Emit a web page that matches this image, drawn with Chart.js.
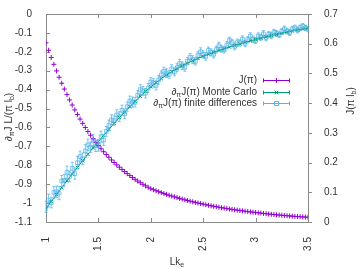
<!DOCTYPE html>
<html><head><meta charset="utf-8">
<script src="https://cdn.jsdelivr.net/npm/chart.js@4/dist/chart.umd.min.js"></script>
<style>html,body{margin:0;padding:0;background:#fff;overflow:hidden}canvas{display:block}</style>
</head><body>
<canvas id="c" width="359" height="269" style="width:359px;height:269px"></canvas>
<script>
// ---- data ----
const lkValues = [1.000,1.025,1.050,1.075,1.100,1.125,1.150,1.175,1.200,1.225,1.250,1.275,1.300,1.325,1.350,1.375,1.400,1.425,1.450,1.475,1.500,
1.525,1.550,1.575,1.600,1.625,1.650,1.675,1.700,1.725,1.750,1.775,1.800,1.825,1.850,1.875,1.900,1.925,1.950,1.975,2.000,
2.025,2.050,2.075,2.100,2.125,2.150,2.175,2.200,2.225,2.250,2.275,2.300,2.325,2.350,2.375,2.400,2.425,2.450,2.475,2.500,
2.525,2.550,2.575,2.600,2.625,2.650,2.675,2.700,2.725,2.750,2.775,2.800,2.825,2.850,2.875,2.900,2.925,2.950,2.975,3.000,
3.025,3.050,3.075,3.100,3.125,3.150,3.175,3.200,3.225,3.250,3.275,3.300,3.325,3.350,3.375,3.400,3.425,3.450,3.475,3.500];

const jValues = [0.6030,0.5778,0.5537,0.5306,0.5084,0.4872,0.4669,0.4474,0.4287,0.4108,0.3937,0.3772,0.3615,0.3464,0.3319,0.3181,0.3048,0.2921,0.2799,0.2682,0.2570,
0.2465,0.2365,0.2269,0.2177,0.2088,0.2003,0.1922,0.1844,0.1769,0.1697,0.1628,0.1562,0.1498,0.1437,0.1379,0.1323,0.1269,0.1217,0.1168,0.1120,
0.1086,0.1052,0.1020,0.0989,0.0958,0.0929,0.0900,0.0873,0.0846,0.0820,0.0795,0.0770,0.0747,0.0724,0.0701,0.0680,0.0659,0.0639,0.0619,0.0600,
0.0581,0.0563,0.0546,0.0529,0.0513,0.0497,0.0481,0.0467,0.0452,0.0438,0.0425,0.0411,0.0399,0.0386,0.0374,0.0363,0.0351,0.0341,0.0330,0.0320,
0.0309,0.0299,0.0288,0.0279,0.0269,0.0260,0.0251,0.0242,0.0234,0.0226,0.0218,0.0211,0.0204,0.0197,0.0190,0.0184,0.0177,0.0171,0.0165,0.0160];

const mcLk = [1.00,1.05,1.10,1.15,1.20,1.25,1.30,1.35,1.40,1.45,1.50,1.55,1.60,1.65,1.70,1.75,1.80,1.85,1.90,1.95,2.00,
2.05,2.10,2.15,2.20,2.25,2.30,2.35,2.40,2.45,2.50,2.55,2.60,2.65,2.70,2.75,2.80,2.85,2.90,2.95,3.00,
3.05,3.10,3.15,3.20,3.25,3.30,3.35,3.40,3.45,3.50];

const mcValues = [-1.030,-0.992,-0.955,-0.918,-0.882,-0.846,-0.811,-0.776,-0.742,-0.708,-0.675,-0.642,-0.610,-0.579,-0.548,-0.519,-0.490,-0.462,-0.435,-0.409,-0.385,
-0.363,-0.342,-0.323,-0.305,-0.289,-0.274,-0.260,-0.247,-0.235,-0.224,-0.213,-0.203,-0.193,-0.184,-0.175,-0.166,-0.158,-0.150,-0.142,-0.135,
-0.128,-0.121,-0.114,-0.108,-0.102,-0.096,-0.090,-0.085,-0.080,-0.075];

const fdValues = [-1.020,-0.986,-0.997,-0.944,-0.940,-0.947,-0.883,-0.880,-0.837,-0.859,-0.816,-0.844,-0.786,-0.754,-0.766,-0.724,-0.692,-0.705,-0.668,-0.697,-0.695,
-0.649,-0.667,-0.621,-0.590,-0.560,-0.564,-0.534,-0.543,-0.509,-0.529,-0.490,-0.460,-0.466,-0.467,-0.429,-0.400,-0.407,-0.419,-0.392,-0.360,
-0.364,-0.378,-0.348,-0.322,-0.303,-0.313,-0.319,-0.290,-0.307,-0.284,-0.262,-0.274,-0.282,-0.250,-0.229,-0.242,-0.251,-0.220,-0.200,-0.214,
-0.224,-0.193,-0.203,-0.213,-0.188,-0.168,-0.184,-0.189,-0.165,-0.140,-0.151,-0.171,-0.152,-0.153,-0.134,-0.155,-0.136,-0.117,-0.134,-0.140,
-0.117,-0.123,-0.105,-0.126,-0.108,-0.114,-0.096,-0.103,-0.110,-0.092,-0.079,-0.091,-0.098,-0.080,-0.073,-0.085,-0.073,-0.065,-0.073,-0.080];

const fdErrors = [0.030,0.034,0.028,0.032,0.030,0.035,0.029,0.031,0.033,0.028,0.032,0.030,0.034,0.029,0.031,0.033,0.030,0.028,0.032,0.030,0.031,
0.030,0.028,0.026,0.029,0.027,0.025,0.028,0.026,0.027,0.025,0.024,0.026,0.027,0.025,0.024,0.026,0.023,0.025,0.024,0.023,
0.022,0.024,0.023,0.021,0.022,0.023,0.021,0.022,0.020,0.021,0.022,0.020,0.021,0.019,0.020,0.021,0.019,0.020,0.021,0.019,
0.020,0.018,0.019,0.020,0.018,0.019,0.018,0.017,0.019,0.018,0.017,0.018,0.019,0.017,0.018,0.017,0.016,0.018,0.017,0.016,
0.017,0.016,0.017,0.015,0.016,0.017,0.015,0.016,0.015,0.016,0.015,0.014,0.016,0.015,0.014,0.015,0.014,0.015,0.014,0.014];

const xTickValues = [1, 1.5, 2, 2.5, 3, 3.5];
const leftTickValues = [0,-0.1,-0.2,-0.3,-0.4,-0.5,-0.6,-0.7,-0.8,-0.9,-1,-1.1];
const rightTickValues = [0,0.1,0.2,0.3,0.4,0.5,0.6,0.7];

const seriesNames = ['J(π)', 'J(π) Monte Carlo', 'J(π) finite differences'];

// ---- styles ----
const PURPLE = '#9400d3', GREEN = '#009e73', BLUE = '#56b4e9';
const BLUE_SOFT = 'rgba(86,180,233,0.85)';
const TEXT = '#333333', FRAME = '#8a8a8a';
const FONT = "'Liberation Sans', Arial, Helvetica, sans-serif";

function drawRich(ctx, parts, x, y, align) {
  const main = '10px ' + FONT, sub = '7px ' + FONT;
  let w = 0;
  for (const [t, s] of parts) { ctx.font = s ? sub : main; w += ctx.measureText(t).width; }
  let cx = align === 'right' ? x - w : align === 'center' ? x - w / 2 : x;
  ctx.textAlign = 'left';
  ctx.textBaseline = 'middle';
  for (const [t, s] of parts) {
    ctx.font = s ? sub : main;
    ctx.fillText(t, cx, y + (s ? 3 : 0));
    cx += ctx.measureText(t).width;
  }
}

const framePlugin = {
  id: 'frame',
  beforeDatasetsDraw(chart) {
    const { ctx, chartArea: a, scales } = chart;
    ctx.save();
    ctx.strokeStyle = FRAME; ctx.lineWidth = 1;
    ctx.strokeRect(a.left + 0.5, a.top + 0.5, a.right - a.left, a.bottom - a.top);
    ctx.beginPath();
    for (const v of xTickValues) {
      const px = Math.round(scales.x.getPixelForValue(v)) + 0.5;
      ctx.moveTo(px, a.bottom); ctx.lineTo(px, a.bottom - 4);
      ctx.moveTo(px, a.top); ctx.lineTo(px, a.top + 4);
    }
    for (const v of leftTickValues) {
      const py = Math.round(scales.y.getPixelForValue(v)) + 0.5;
      ctx.moveTo(a.left, py); ctx.lineTo(a.left + 4, py);
    }
    for (const v of rightTickValues) {
      const py = Math.round(scales.y2.getPixelForValue(v)) + 0.5;
      ctx.moveTo(a.right, py); ctx.lineTo(a.right + 4, py);
    }
    ctx.stroke();
    ctx.restore();
  }
};

const errorBarPlugin = {
  id: 'errbars',
  afterDatasetsDraw(chart) {
    const { ctx, scales } = chart;
    ctx.save();
    ctx.strokeStyle = BLUE_SOFT; ctx.lineWidth = 0.9;
    ctx.beginPath();
    for (let i = 0; i < lkValues.length; i++) {
      const px = scales.x.getPixelForValue(lkValues[i]);
      const y1 = scales.y.getPixelForValue(fdValues[i] - fdErrors[i]);
      const y2 = scales.y.getPixelForValue(fdValues[i] + fdErrors[i]);
      ctx.moveTo(px, y1); ctx.lineTo(px, y2);
      ctx.moveTo(px - 1.5, y1); ctx.lineTo(px + 1.5, y1);
      ctx.moveTo(px - 1.5, y2); ctx.lineTo(px + 1.5, y2);
    }
    ctx.stroke();
    ctx.restore();
  }
};

const textPlugin = {
  id: 'texts',
  afterDraw(chart) {
    const { ctx } = chart;
    ctx.save();
    ctx.fillStyle = TEXT;
    ctx.save(); ctx.translate(9, 117); ctx.rotate(-Math.PI / 2);
    drawRich(ctx, [['∂',0],['π',1],['J L/(π l',0],['b',1],[')',0]], 0, 0, 'center');
    ctx.restore();
    ctx.save(); ctx.translate(351, 101); ctx.rotate(-Math.PI / 2);
    drawRich(ctx, [['J(π l',0],['b',1],[')',0]], 0, 0, 'center');
    ctx.restore();
    drawRich(ctx, [['Lk',0],['e',1]], 177, 262, 'center');
    const rows = [
      { y: 80, parts: [[seriesNames[0],0]], color: PURPLE, style: 'cross', r: 2.5 },
      { y: 92, parts: [['∂',0],['π',1],[seriesNames[1],0]], color: GREEN, style: 'crossRot', r: 2.5 },
      { y: 103, parts: [['∂',0],['π',1],[seriesNames[2],0]], color: BLUE, style: 'rect', r: 2.8 }
    ];
    for (const r of rows) {
      ctx.fillStyle = TEXT;
      drawRich(ctx, r.parts, 257, r.y, 'right');
      ctx.strokeStyle = r.color; ctx.lineWidth = 1;
      const yy = Math.round(r.y) + 0.5;
      ctx.beginPath();
      ctx.moveTo(263, yy); ctx.lineTo(290, yy);
      ctx.moveTo(263.5, yy - 2); ctx.lineTo(263.5, yy + 2);
      ctx.moveTo(289.5, yy - 2); ctx.lineTo(289.5, yy + 2);
      ctx.stroke();
      ctx.fillStyle = 'rgba(0,0,0,0)';
      Chart.helpers.drawPoint(ctx, { pointStyle: r.style, radius: r.r, borderWidth: 1 }, 276.5, yy);
    }
    ctx.restore();
  }
};

const tickNum = v => String(+Number(v).toFixed(2));

new Chart(document.getElementById('c'), {
  type: 'scatter',
  data: {
    datasets: [
      { label: seriesNames[0], yAxisID: 'y2', data: lkValues.map((x, i) => ({ x, y: jValues[i] })),
        showLine: false, pointStyle: 'cross', pointRadius: 2.5, borderColor: PURPLE, backgroundColor: PURPLE, pointBorderWidth: 1 },
      { label: seriesNames[1], yAxisID: 'y', data: mcLk.map((x, i) => ({ x, y: mcValues[i] })),
        showLine: true, borderWidth: 1, pointStyle: 'crossRot', pointRadius: 2.3, borderColor: GREEN, backgroundColor: GREEN, pointBorderWidth: 1 },
      { label: seriesNames[2], yAxisID: 'y', data: lkValues.map((x, i) => ({ x, y: fdValues[i] })),
        showLine: false, pointStyle: 'rect', pointRadius: 2.6, borderColor: BLUE_SOFT, backgroundColor: 'rgba(0,0,0,0)', pointBorderWidth: 0.9 }
    ]
  },
  options: {
    responsive: false, animation: false, events: [], devicePixelRatio: 1,
    layout: { padding: { top: 12, left: 0, right: 0, bottom: 0 } },
    plugins: { legend: { display: false }, tooltip: { enabled: false } },
    scales: {
      x: {
        type: 'linear', min: 1, max: 3.5,
        grid: { display: false }, border: { display: false },
        afterBuildTicks(s) { s.ticks = xTickValues.map(v => ({ value: v })); },
        afterFit(s) { s.height = 47; },
        ticks: { autoSkip: false, minRotation: 90, maxRotation: 90, padding: 7, color: TEXT,
                 font: { family: FONT, size: 10 }, callback: tickNum }
      },
      y: {
        type: 'linear', position: 'left', min: -1.1, max: 0,
        grid: { display: false }, border: { display: false },
        afterBuildTicks(s) { s.ticks = leftTickValues.map(v => ({ value: v })); },
        afterFit(s) { s.width = 46; },
        ticks: { padding: 6, color: TEXT, font: { family: FONT, size: 10 }, callback: tickNum }
      },
      y2: {
        type: 'linear', position: 'right', min: 0, max: 0.7,
        grid: { display: false }, border: { display: false },
        afterBuildTicks(s) { s.ticks = rightTickValues.map(v => ({ value: v })); },
        afterFit(s) { s.width = 51; },
        ticks: { padding: 8, color: TEXT, font: { family: FONT, size: 10 }, callback: tickNum }
      }
    }
  },
  plugins: [framePlugin, errorBarPlugin, textPlugin]
});
</script>
</body></html>
